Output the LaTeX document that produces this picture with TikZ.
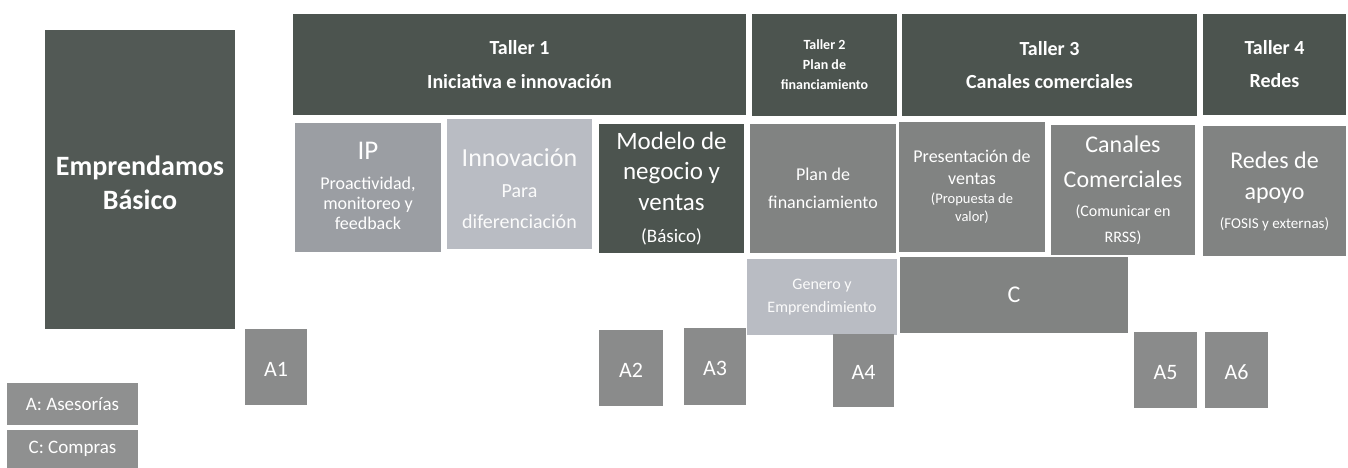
\documentclass[tikz,border=0pt]{standalone}
\usepackage{fontspec}
\setmainfont{Carlito}
\newcommand\fsz[2]{\fontsize{#1}{#2}\selectfont}
\definecolor{cDark}{HTML}{4C544F}
\definecolor{cEmp}{HTML}{525955}
\definecolor{cMid}{HTML}{818382}
\definecolor{cBox}{HTML}{8A8B8B}
\definecolor{cIP}{HTML}{9B9EA3}
\definecolor{cInn}{HTML}{B9BCC3}
\definecolor{cLeg}{HTML}{8F9090}
\tikzset{
  base/.style={inner sep=0pt, outer sep=0pt, align=center, text=white},
  dark/.style={base, fill=cDark},
  emp/.style={base, fill=cEmp},
  mid/.style={base, fill=cMid},
  abox/.style={base, fill=cBox, minimum width=63pt, minimum height=76pt, font=\fsz{22}{24}, text height=18pt, text depth=0pt},
  ipbox/.style={base, fill=cIP},
  inbox/.style={base, fill=cInn, text=white!94!cInn},
  legbox/.style={base, fill=cLeg, minimum width=131pt, font=\fsz{19}{21}},
  inner/.style={inner sep=0pt, align=center},
}
\begin{document}
\begin{tikzpicture}[x=1pt,y=-1pt]
\useasboundingbox (0,0) rectangle (1348,468);
% left block
\node[emp, minimum width=190pt, minimum height=299pt,
  label={[inner, name=empt, text=white, yshift=-3pt, font=\bfseries\fsz{28}{34}]center:Emprendamos\\Básico}] (emp) at (140,179.5) {};
% headers
\node[dark, minimum width=453pt, minimum height=101pt, font=\bfseries\fsz{20}{34}] (t1) at (519.5,64.5) {Taller 1\\Iniciativa e innovación};
\node[dark, minimum width=145pt, minimum height=102pt, font=\bfseries\fsz{14}{20}] (t2) at (824.5,65) {Taller 2\\Plan de\\financiamiento};
\node[dark, minimum width=295pt, minimum height=102pt, font=\bfseries\fsz{20}{33}] (t3) at (1049.5,65) {Taller 3\\Canales comerciales};
\node[dark, minimum width=143pt, minimum height=101pt, font=\bfseries\fsz{20}{33}] (t4) at (1274.5,64.5) {Taller 4\\Redes};
% second row
\node[ipbox, minimum width=146pt, minimum height=129pt,
  label={[inner, name=ipt, text=white, yshift=2pt, font=\fsz{18}{20}]center:{\fsz{27}{30}IP\\[10pt]Proactividad,\\monitoreo y\\feedback}}] (ip) at (368,187.5) {};
\node[inbox, minimum width=145pt, minimum height=130pt,
  label={[inner, name=innt, text=white!94!cInn, yshift=-5pt, font=\fsz{20}{31}]center:{\fsz{26}{31}Innovación\\Para\\diferenciación}}] (inn) at (519.5,184) {};
\node[dark, minimum width=145pt, minimum height=129pt, font=\fsz{25}{30.5}] (mod) at (671.5,188.5)
  {Modelo de\\negocio y\\ventas\\[2pt]\fsz{19}{31}(Básico)};
\node[mid, minimum width=146pt, minimum height=129pt, font=\fsz{18}{28}] (plan) at (823,188.5) {Plan de\\financiamiento};
\node[mid, minimum width=146pt, minimum height=130pt, font=\fsz{14.5}{18.5}] (pres) at (972,187)
  {\fsz{18}{22}Presentación de\\[4pt]\fsz{18}{22}ventas\\(Propuesta de\\valor)};
\node[mid, minimum width=144pt, minimum height=130pt, font=\fsz{16}{26}] (can) at (1123,190)
  {\fsz{24}{32}Canales\\[9pt]\fsz{24}{34}Comerciales\\[3pt](Comunicar en\\RRSS)};
\node[mid, minimum width=143pt, minimum height=129pt, font=\fsz{15}{29}] (red) at (1274.5,191)
  {\fsz{24}{28}Redes de\\[2pt]\fsz{24}{31}apoyo\\(FOSIS y externas)};
% third row
\node[inbox, minimum width=150pt, minimum height=76pt, font=\fsz{16}{23}] (gen) at (822,297) {Genero y\\Emprendimiento};
\node[mid, minimum width=228pt, minimum height=76pt, font=\fsz{24}{28}] (c) at (1014,295) {C};
% asesorias
\node[abox, minimum width=62pt] (a1) at (276,367) {A1};
\node[abox, minimum width=64pt] (a2) at (631,368) {A2};
\node[abox, minimum width=62pt, minimum height=77pt] (a3) at (715,366.5) {A3};
\node[abox, minimum width=61pt, minimum height=73pt] (a4) at (863.5,370.5) {A4};
\node[abox] (a5) at (1165.5,370) {A5};
\node[abox] (a6) at (1236.5,370) {A6};
% legend
\node[legbox, minimum height=42pt] (lega) at (72.5,404) {A: Asesorías};
\node[legbox, minimum height=38pt] (legc) at (72.5,449) {C: Compras};
\end{tikzpicture}
\end{document}
